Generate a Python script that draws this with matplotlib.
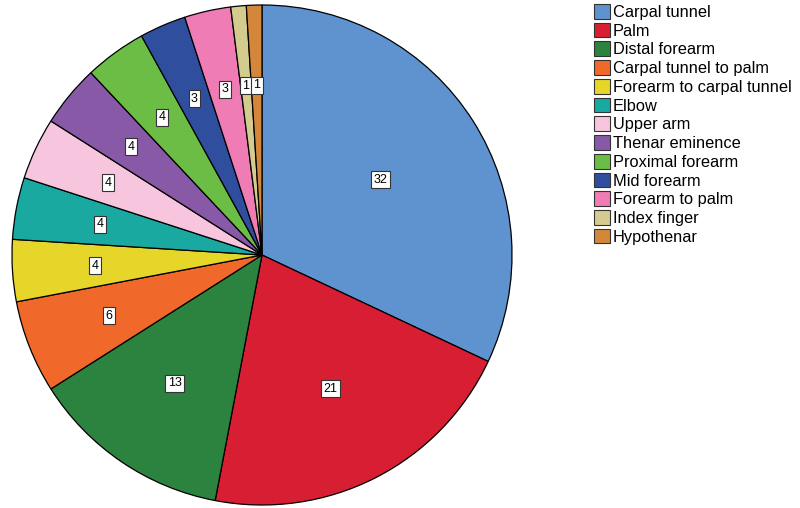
import numpy as np
import matplotlib.pyplot as plt
from matplotlib.patches import Patch

plt.rcParams['font.family'] = ['Liberation Sans', 'DejaVu Sans']

labels = ['Carpal tunnel', 'Palm', 'Distal forearm', 'Carpal tunnel to palm',
          'Forearm to carpal tunnel', 'Elbow', 'Upper arm', 'Thenar eminence',
          'Proximal forearm', 'Mid forearm', 'Forearm to palm', 'Index finger',
          'Hypothenar']
counts = [32, 21, 13, 6, 4, 4, 4, 4, 4, 3, 3, 1, 1]
colors = ['#5f93cf', '#d81e33', '#2c8340', '#f0682a', '#e6d62a', '#1aa9a0',
          '#f7c6de', '#8859a6', '#6cbd45', '#2f4f9e', '#ef7cb4', '#d4cc8e',
          '#d4873a']
# distance of the count labels from the centre (fraction of radius)
label_r = [0.56, 0.6, 0.62, 0.66, 0.67, 0.66, 0.68, 0.68, 0.68, 0.68, 0.68, 0.68, 0.68]

fig = plt.figure(figsize=(8, 5.08), dpi=100)
ax = fig.add_axes([12/800, 3/508, 500/800, 500/508])
wedges, _ = ax.pie(counts, colors=colors, startangle=90, counterclock=False,
                   wedgeprops=dict(edgecolor='black', linewidth=0.9))
ax.set_xlim(-1, 1)
ax.set_ylim(-1, 1)
ax.set_aspect('equal')

for w, c, r in zip(wedges, counts, label_r):
    ang = np.deg2rad((w.theta1 + w.theta2) / 2)
    ax.text(r*np.cos(ang), r*np.sin(ang), str(c), ha='center', va='center',
            fontsize=9,
            bbox=dict(boxstyle='square,pad=0.2', fc='white', ec='#333333', lw=0.8))

handles = [Patch(facecolor=col, edgecolor='#333333', linewidth=0.8) for col in colors]
fig.legend(handles, labels, loc='upper left', bbox_to_anchor=(594/800, 1 - 4/508),
           frameon=False, fontsize=11.8, handlelength=0.95, handleheight=1.0,
           handletextpad=0.2, labelspacing=0.17, borderpad=0, borderaxespad=0)

fig.savefig('out.png', dpi=100)
